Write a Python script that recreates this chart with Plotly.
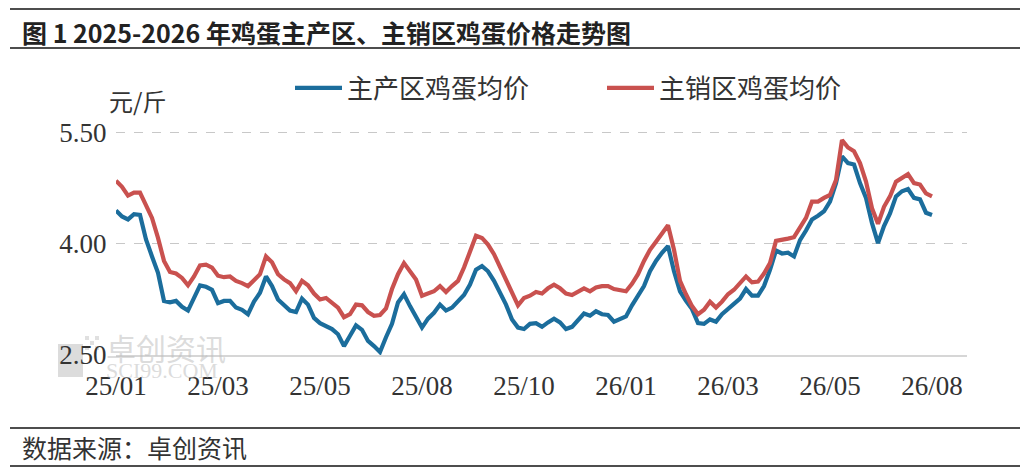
import plotly.graph_objects as go

# 主产区 / 主销区 鸡蛋均价（元/斤）
main_prod = [
    4.45, 4.37, 4.33, 4.40, 4.39, 4.06, 3.83, 3.61, 3.23, 3.21, 3.23, 3.15, 3.10, 3.27, 3.44, 3.42, 3.38,
    3.20, 3.23, 3.23, 3.14, 3.11, 3.05, 3.22, 3.34, 3.56, 3.43, 3.25, 3.18, 3.10, 3.08, 3.26, 3.18, 3.00,
    2.93, 2.89, 2.85, 2.78, 2.62, 2.76, 2.90, 2.84, 2.69, 2.62, 2.54, 2.74, 2.92, 3.21, 3.32, 3.16, 3.01,
    2.87, 2.99, 3.07, 3.18, 3.10, 3.14, 3.22, 3.31, 3.45, 3.65, 3.70, 3.63, 3.50, 3.34, 3.18, 2.98, 2.87,
    2.85, 2.92,
    2.93, 2.88, 2.94, 2.99, 2.94, 2.85, 2.88, 2.97, 3.06, 3.03, 3.09, 3.05, 3.04, 2.95, 2.98, 3.02, 3.17,
    3.31, 3.43, 3.63, 3.77, 3.88, 3.97, 3.63, 3.36, 3.23, 3.12, 2.93, 2.92, 2.98, 2.95, 3.05, 3.12, 3.18,
    3.26,
    3.39, 3.30, 3.30, 3.43, 3.65, 3.91, 3.87, 3.88, 3.83, 4.05, 4.18, 4.33, 4.38, 4.44, 4.57, 4.82, 5.18,
    5.09, 5.07, 4.82, 4.62, 4.28, 4.01, 4.24, 4.41, 4.64, 4.71, 4.74, 4.62, 4.60, 4.42, 4.39,
]
main_sales = [
    4.85, 4.77, 4.65, 4.69, 4.69, 4.53, 4.35, 4.08, 3.77, 3.62, 3.60, 3.54, 3.44, 3.56, 3.71, 3.72, 3.68,
    3.57, 3.55, 3.56, 3.50, 3.47, 3.43, 3.51, 3.59, 3.83, 3.75, 3.59, 3.52, 3.47, 3.36, 3.50, 3.44, 3.33,
    3.25, 3.27, 3.20, 3.14, 3.01, 3.05, 3.18, 3.17, 3.08, 3.03, 3.04, 3.13, 3.39, 3.59, 3.74, 3.62, 3.52,
    3.30, 3.33, 3.36, 3.43, 3.35, 3.43, 3.50, 3.68, 3.88, 4.11, 4.08, 3.99, 3.86, 3.68, 3.52, 3.32, 3.17,
    3.27, 3.30,
    3.35, 3.33, 3.40, 3.45, 3.40, 3.33, 3.31, 3.36, 3.40, 3.36, 3.41, 3.43, 3.43, 3.39, 3.38, 3.36, 3.46,
    3.59, 3.77, 3.92, 4.03, 4.15, 4.25, 3.92, 3.50, 3.32, 3.16, 3.05, 3.11, 3.22, 3.14, 3.22, 3.32, 3.38,
    3.48,
    3.56, 3.48, 3.49, 3.60, 3.74, 4.04, 4.05, 4.07, 4.09, 4.21, 4.35, 4.57, 4.57, 4.62, 4.66, 4.86, 5.40,
    5.30, 5.25, 5.09, 4.84, 4.48, 4.27, 4.50, 4.64, 4.84, 4.89, 4.94, 4.82, 4.80, 4.68, 4.64,
]
tick_labels = ["25/01", "25/03", "25/05", "25/08", "25/10", "26/01", "26/03", "26/05", "26/08"]
y_ticks = [2.5, 4.0, 5.5]

# 页面 body 默认有 8px 边距，图整体按窗口坐标减去这一偏移
OFF = 8
WIN_W, WIN_H = 1030, 473
WIDTH, HEIGHT = WIN_W - OFF, WIN_H - OFF
# 绘图区（窗口像素）：左 116，右 967，上 130，下 355
PL, PR, PT, PB = 116, 967, 130, 355
L, T = PL - OFF, PT - OFF
R, B = WIDTH - (PR - OFF), HEIGHT - (PB - OFF)
PW, PH = PR - PL, PB - PT
Y0, Y1 = 2.5, 5.5 + 2.7 / 74.2      # 5.50 对应 y≈133px

def px(x):
    return (x - PL) / PW

def py(y):
    return (PB - y) / PH

CJK = "Noto Sans CJK SC"
NUM = "Liberation Serif"
TEXT = "#333333"

n = len(main_prod)
step = (n - 1) // (len(tick_labels) - 1)
x = list(range(n))

fig = go.Figure()
fig.add_trace(go.Scatter(x=x, y=main_prod, mode="lines", name="主产区鸡蛋均价",
                         line=dict(color="#1b6d9c", width=4.2)))
fig.add_trace(go.Scatter(x=x, y=main_sales, mode="lines", name="主销区鸡蛋均价",
                         line=dict(color="#c9514f", width=4.2)))

fig.update_layout(
    width=WIDTH, height=HEIGHT,
    margin=dict(l=L, r=R, t=T, b=B, autoexpand=False),
    paper_bgcolor="white", plot_bgcolor="white",
    showlegend=True,
    legend=dict(orientation="h", x=px(290), y=py(88), xanchor="left", yanchor="middle",
                font=dict(family=CJK, size=26, color=TEXT), itemwidth=47,
                entrywidth=250, bgcolor="rgba(0,0,0,0)"),
    xaxis=dict(range=[0, (n - 1) * PW / 816], tickmode="array",
               tickvals=[i * step for i in range(len(tick_labels))], ticktext=tick_labels,
               showgrid=False, zeroline=False, showline=True, linecolor="#d6d6d6", linewidth=2,
               ticks="outside", ticklen=6, tickcolor="rgba(0,0,0,0)",
               tickfont=dict(family=NUM, size=27, color=TEXT)),
    yaxis=dict(range=[Y0, Y1], tickmode="array", tickvals=y_ticks, tickformat=".2f",
               showgrid=True, gridcolor="#c8c8c8", gridwidth=1.2, griddash="dash",
               zeroline=False, showline=False,
               ticks="outside", ticklen=3, tickcolor="rgba(0,0,0,0)",
               tickfont=dict(family=NUM, size=27, color=TEXT)),
)

# 上下分隔线
shapes = []
for yy in [9, 48, 428, 466]:
    shapes.append(dict(type="line", xref="paper", yref="paper", x0=px(10), x1=px(1020),
                       y0=py(yy), y1=py(yy), line=dict(color="#4d4d4d", width=2)))

# 水印 logo
shapes.append(dict(type="rect", xref="paper", yref="paper", layer="below",
                   x0=px(58), x1=px(83), y0=py(377), y1=py(344),
                   fillcolor="#dcdcdc", line=dict(width=0)))
for r in range(3):
    for c in range(3):
        if (r + c) % 2 == 0:
            shapes.append(dict(type="rect", xref="paper", yref="paper", layer="below",
                               x0=px(85 + 5 * c), x1=px(89 + 5 * c),
                               y0=py(340 + 5 * r), y1=py(336 + 5 * r),
                               fillcolor="#e0e0e0", line=dict(width=0)))
fig.update_layout(shapes=shapes)

annotations = [
    dict(text="<b>图 1 2025-2026 年鸡蛋主产区、主销区鸡蛋价格走势图</b>", x=px(20), y=py(32),
         xanchor="left", yanchor="middle", font=dict(family=CJK, size=25, color="#222222")),
    dict(text="元/斤", x=px(107), y=py(100), xanchor="left", yanchor="middle",
         font=dict(family=CJK, size=24, color=TEXT)),
    dict(text="数据来源：卓创资讯", x=px(20), y=py(447), xanchor="left", yanchor="middle",
         font=dict(family=CJK, size=25, color=TEXT)),
    dict(text="卓创资讯", x=px(104), y=py(347), xanchor="left", yanchor="middle",
         font=dict(family=CJK, size=30, color="rgba(190,190,190,0.55)")),
    dict(text="SCI99.COM", x=px(104), y=py(370), xanchor="left", yanchor="middle",
         font=dict(family=NUM, size=22, color="rgba(190,190,190,0.55)")),
]
for a in annotations:
    a.update(xref="paper", yref="paper", showarrow=False)
fig.update_layout(annotations=annotations)

fig.write_html("out.html")
